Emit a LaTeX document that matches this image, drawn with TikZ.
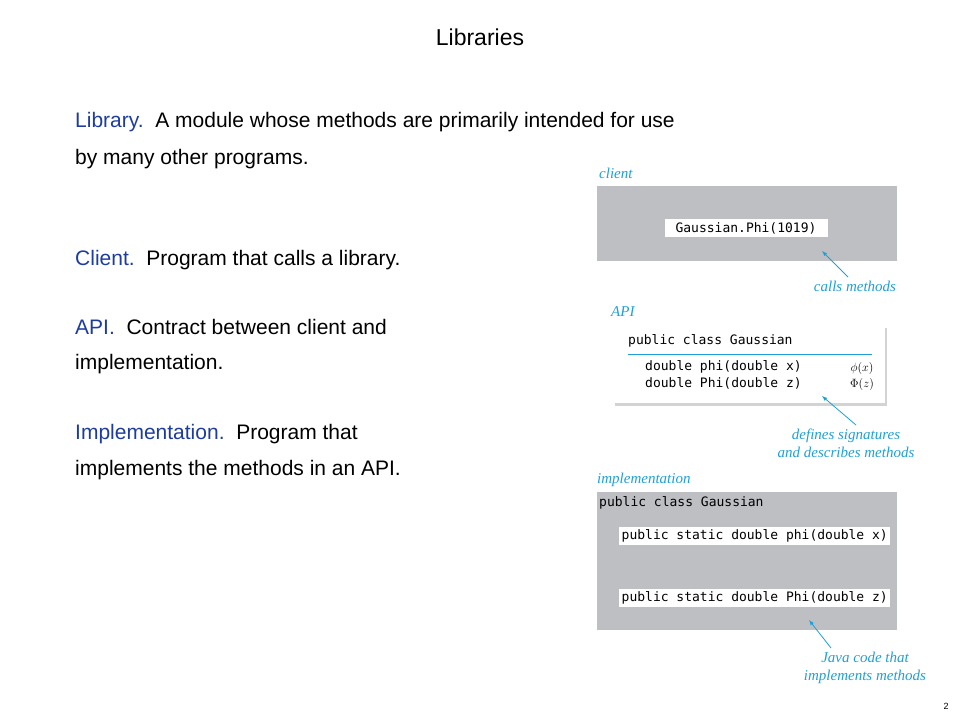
\documentclass[tikz,border=0pt]{standalone}
\usepackage{fontspec}
\setmainfont{Liberation Sans}
\newfontfamily\monof{DejaVu Sans Mono}
\newfontfamily\serifit{Liberation Serif}
\usetikzlibrary{shadows}
\definecolor{termblue}{RGB}{30,60,160}
\definecolor{capcyan}{RGB}{30,160,215}
\definecolor{boxgray}{RGB}{190,191,195}
\tikzset{x=1pt,y=-1pt,
  body/.style={anchor=base west,inner sep=0pt,font=\fontsize{21}{24}\selectfont},
  code/.style={inner sep=0pt,font=\monof\fontsize{13}{15}\selectfont},
  captxt/.style={inner sep=0pt,text=capcyan,font=\serifit\itshape\fontsize{15}{18}\selectfont,align=center},
  whitebox/.style={fill=white,inner sep=0pt},
  pointer/.style={draw=capcyan,-latex,thick}}
\begin{document}
\begin{tikzpicture}
\useasboundingbox (0,0) rectangle (960,720);
\node[inner sep=0pt,font=\fontsize{23}{26}\selectfont] (title) at (480,37) {Libraries};
\node[body] (l1) at (75,127) {\textcolor{termblue}{Library.}\ \ A module whose methods are primarily intended for use};
\node[body] (l2) at (75,164) {by many other programs.};
\node[body] (l3) at (75,265) {\textcolor{termblue}{Client.}\ \ Program that calls a library.};
\node[body] (l4) at (75,334) {\textcolor{termblue}{API.}\ \ Contract between client and};
\node[body] (l5) at (75,369) {implementation.};
\node[body] (l6) at (75,439) {\textcolor{termblue}{Implementation.}\ \ Program that};
\node[body] (l7) at (75,475) {implements the methods in an API.};
% client
\node[captxt,anchor=west] (clab) at (599,173) {client};
\fill[boxgray] (597,186) rectangle (897,261);
\node[whitebox,minimum width=163pt,minimum height=18pt] (cb) at (746,228) {};
\node[code] (ct) at (cb) {Gaussian.Phi(1019)};
\node[captxt] (cm) at (855,286) {calls methods};
\coordinate (cmt) at (822,251);
\draw[pointer] (848,277) -- (cmt);
% API
\node[captxt,anchor=west] (alab) at (611,312) {API};
\node[fill=white,drop shadow={shadow xshift=2pt,shadow yshift=-3pt,opacity=0.35},minimum width=272pt,minimum height=78pt,inner sep=0pt] (apibox) at (749,364) {};
\node[code,anchor=west] (a1) at (628,341) {public class Gaussian};
\draw[capcyan,line width=1pt] (628,354) -- (872,354);
\node[code,anchor=west] (a2) at (645,367) {double phi(double x)};
\node[code,anchor=west] (a3) at (645,383) {double Phi(double z)};
\node[inner sep=0pt,font=\fontsize{12}{14}\selectfont] (p1) at (862,368) {$\phi(x)$};
\node[inner sep=0pt,font=\fontsize{12}{14}\selectfont] (p2) at (862,384) {$\Phi(z)$};
\node[captxt] (ds) at (846,443) {defines signatures\\and describes methods};
\draw[pointer] (856,425) -- (822,396);
% implementation
\node[captxt,anchor=west] (ilab) at (597,480) {implementation};
\fill[boxgray] (597,492) rectangle (897,630);
\node[code,anchor=west] (i1) at (599,503) {public class Gaussian};
\node[whitebox,minimum width=271pt,minimum height=18pt] (ib1) at (754.5,536) {};
\node[code,anchor=east] (it1) at (888,536) {public static double phi(double x)};
\node[whitebox,minimum width=271pt,minimum height=18pt] (ib2) at (754.5,598) {};
\node[code,anchor=east] (it2) at (888,598) {public static double Phi(double z)};
\node[captxt] (jc) at (865,668) {Java code that\\implements methods};
\draw[pointer] (831,648) -- (809,620);
\node[inner sep=0pt,font=\fontsize{9}{10}\selectfont] (pg) at (946,706) {2};
\end{tikzpicture}
\end{document}
